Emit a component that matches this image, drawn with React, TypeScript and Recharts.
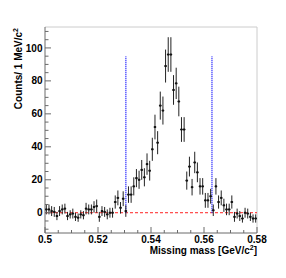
import React from 'react';
import { ScatterChart, Scatter, XAxis, YAxis, ErrorBar, ReferenceLine } from 'recharts';

// Bin centres of the missing-mass histogram (GeV/c^2), 1 MeV bins
const binCenters = [
  0.5005, 0.5015, 0.5025, 0.5035, 0.5045, 0.5055, 0.5065, 0.5075, 0.5085, 0.5095,
  0.5105, 0.5115, 0.5125, 0.5135, 0.5145, 0.5155, 0.5165, 0.5175, 0.5185, 0.5195,
  0.5205, 0.5215, 0.5225, 0.5235, 0.5245, 0.5255, 0.5265, 0.5275, 0.5285, 0.5295,
  0.5305, 0.5315, 0.5325, 0.5335, 0.5345, 0.5355, 0.5365, 0.5375, 0.5385, 0.5395,
  0.5405, 0.5415, 0.5425, 0.5435, 0.5445, 0.5455, 0.5465, 0.5475, 0.5485, 0.5495,
  0.5505, 0.5515, 0.5525, 0.5535, 0.5545, 0.5555, 0.5565, 0.5575, 0.5585, 0.5595,
  0.5605, 0.5615, 0.5625, 0.5635, 0.5645, 0.5655, 0.5665, 0.5675, 0.5685, 0.5695,
  0.5705, 0.5715, 0.5725, 0.5735, 0.5745, 0.5755, 0.5765, 0.5775, 0.5785, 0.5795,
];

// Counts per bin
const counts = [
  2, 2, 1, 0.5, -2, 1, 2, 2.5, -2, -1,
  -0.5, -2.5, -3, -1, -1.5, 2.5, 2, 2, 3.5, 4,
  -2.5, 1, 0.5, -1, 0, 0, 6.5, 9, 3, 8.5,
  1, 11, 11, 16, 21, 20, 26, 21.5, 29.5, 25.5,
  38.5, 52, 42.5, 65, 62, 89, 96, 96, 74.5, 78.5,
  67.5, 50.5, 50.5, 19.5, 28, 15.5, 30.5, 24.5, 16, 16,
  7.5, 7.5, 10, 1.5, 16, 6.5, 9, 4.5, 2, 2,
  6.5, -2.5, -0.5, -2, -3.5, 0, -0.5, -2.5, -3.5, -3.5,
];

// Statistical errors per bin
const countErrors = [
  3, 3, 3, 3, 2.5, 3, 3, 3, 2.5, 2.5,
  3, 2.5, 2.5, 2.5, 2.5, 3.5, 3, 3, 3.5, 4,
  3, 3, 3, 3, 3, 3, 4, 4.5, 3.5, 4.5,
  3.5, 5, 5, 5.5, 5.5, 5.5, 6, 5.5, 6.5, 6,
  7, 7.5, 7, 8.5, 8.5, 10, 10.5, 10.5, 9, 9.5,
  9, 7.5, 7.5, 5.5, 6, 5, 6.5, 6, 5, 5,
  4.5, 4.5, 4.5, 3.5, 5, 4, 4.5, 4, 3.5, 3.5,
  4, 3, 3, 3, 2.5, 3, 3, 2.5, 2.5, 2.5,
];

const binHalfWidth = 0.0005;

// Signal window cuts and their drawn height
const cutLow = 0.5305;
const cutHigh = 0.563;
const cutTop = 95;

// Axis ranges and ticks
const xMin = 0.5;
const xMax = 0.58;
const yMin = -12.3;
const yMax = 112.7;
const xTicks = [0.5, 0.505, 0.51, 0.515, 0.52, 0.525, 0.53, 0.535, 0.54, 0.545, 0.55, 0.555, 0.56, 0.565, 0.57, 0.575, 0.58];
const xLabelTicks = [0.5, 0.52, 0.54, 0.56, 0.58];
const xLabelTexts = ['0.5', '0.52', '0.54', '0.56', '0.58'];
const yTicks = [-10, -5, 0, 5, 10, 15, 20, 25, 30, 35, 40, 45, 50, 55, 60, 65, 70, 75, 80, 85, 90, 95, 100, 105, 110];
const yLabelTicks = [0, 20, 40, 60, 80, 100];

const data = binCenters.map((x, i) => ({ x, y: counts[i], ey: countErrors[i], ex: binHalfWidth }));

const FONT = '"Liberation Sans", Arial, Helvetica, sans-serif';
const AXIS_COLOR = '#6a6a6a';
const TICK_MARGIN = 2;

const YTick = (props: any) => {
  const { x, y, payload } = props;
  const v = payload.value;
  const axisX = x + TICK_MARGIN;
  const major = yLabelTicks.indexOf(v) >= 0;
  return (
    <g>
      <line x1={axisX} x2={axisX + (major ? 6 : 3.5)} y1={y} y2={y} stroke={AXIS_COLOR} strokeWidth={1} />
      {major && (
        <text x={axisX - 2.5} y={y + 3.6} textAnchor="end" fontFamily={FONT} fontWeight="bold" fontSize={10} fill="#000">
          {String(v)}
        </text>
      )}
    </g>
  );
};

const XTick = (props: any) => {
  const { x, y, payload } = props;
  const v = payload.value;
  const axisY = y - TICK_MARGIN;
  const idx = xLabelTicks.findIndex((t) => Math.abs(t - v) < 1e-7);
  const major = idx >= 0;
  return (
    <g>
      <line x1={x} x2={x} y1={axisY} y2={axisY - (major ? 6 : 3)} stroke={AXIS_COLOR} strokeWidth={1} />
      {major && (
        <text x={x} y={axisY + 10} textAnchor="middle" fontFamily={FONT} fontWeight="bold" fontSize={10} fill="#000">
          {xLabelTexts[idx]}
        </text>
      )}
    </g>
  );
};

const Marker = (props: any) => {
  const { cx, cy } = props;
  if (cx == null || cy == null) return null;
  return <rect x={cx - 1} y={cy - 1} width={2} height={2} fill="#111" />;
};

export default function App() {
  return (
    <div style={{ width: 278, height: 270 }}>
      <ScatterChart width={278} height={270} margin={{ top: 19, right: 29, bottom: 0, left: 0 }}>
        <XAxis
          type="number"
          dataKey="x"
          domain={[xMin, xMax]}
          allowDataOverflow
          ticks={xTicks}
          interval={0}
          tickSize={0}
          tickMargin={TICK_MARGIN}
          tickLine={false}
          tick={<XTick />}
          height={45}
          axisLine={{ stroke: AXIS_COLOR, strokeWidth: 1 }}
        />
        <YAxis
          type="number"
          dataKey="y"
          domain={[yMin, yMax]}
          allowDataOverflow
          ticks={yTicks}
          interval={0}
          tickSize={0}
          tickMargin={TICK_MARGIN}
          tickLine={false}
          tick={<YTick />}
          width={37}
          axisLine={{ stroke: AXIS_COLOR, strokeWidth: 1 }}
        />
        <ReferenceLine y={yMax} stroke="#cccccc" strokeWidth={1} />
        <ReferenceLine x={xMax} stroke="#cccccc" strokeWidth={1} />
        <ReferenceLine y={0} stroke="#ff2020" strokeWidth={1} strokeDasharray="3 2" />
        <ReferenceLine
          segment={[{ x: cutLow, y: 0 }, { x: cutLow, y: cutTop }]}
          stroke="#3535ff"
          strokeWidth={1.6}
          strokeDasharray="1 1"
        />
        <ReferenceLine
          segment={[{ x: cutHigh, y: 0 }, { x: cutHigh, y: cutTop }]}
          stroke="#3535ff"
          strokeWidth={1.6}
          strokeDasharray="1 1"
        />
        <Scatter data={data} dataKey="y" isAnimationActive={false} shape={<Marker />}>
          <ErrorBar dataKey="ey" direction="y" width={0} stroke="#222" strokeWidth={1} isAnimationActive={false} />
          <ErrorBar dataKey="ex" direction="x" width={0} stroke="#222" strokeWidth={1} isAnimationActive={false} />
        </Scatter>
        <text
          transform="translate(13.5, 20) rotate(-90)"
          textAnchor="end"
          fontFamily={FONT}
          fontWeight="bold"
          fontSize={10}
          fill="#000"
        >
          Counts/ 1 MeV/c<tspan fontSize={7} dy={-4}>2</tspan>
        </text>
        <text x={249} y={245.5} textAnchor="end" fontFamily={FONT} fontWeight="bold" fontSize={10} fill="#000">
          Missing mass [GeV/c<tspan fontSize={7} dy={-4}>2</tspan><tspan dy={4}>]</tspan>
        </text>
      </ScatterChart>
    </div>
  );
}
